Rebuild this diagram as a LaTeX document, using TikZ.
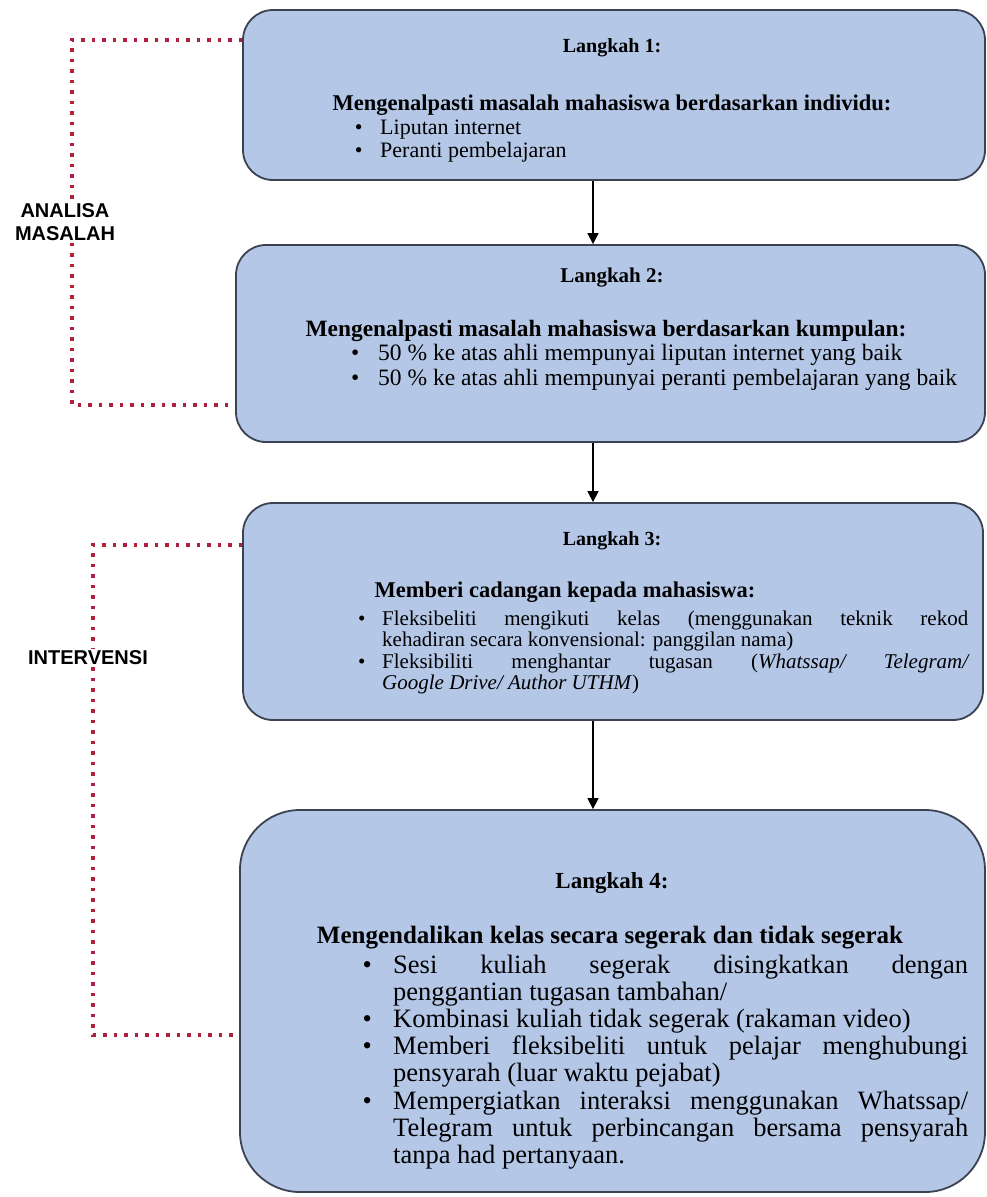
\documentclass[tikz,border=0pt]{standalone}
\usepackage{fontspec}
\setmainfont{Liberation Serif}
\newfontfamily\labelfont{Liberation Sans}
\usetikzlibrary{arrows.meta,positioning}

\definecolor{boxfill}{RGB}{180,199,231}
\definecolor{boxline}{RGB}{59,66,82}
\definecolor{dotred}{RGB}{176,32,60}

\newcommand{\fsz}[2]{\fontsize{#1}{#2}\selectfont}
\newcommand{\itm}[1]{\noindent\llap{\textbullet\hspace{0.8em}}#1\par}

\begin{document}
\begin{tikzpicture}[x=1pt,y=-1pt,
    stepbox/.style={draw=boxline, line width=1.8pt, fill=boxfill, rounded corners=30pt, inner sep=0pt},
    steptitle/.style={anchor=base, font=\bfseries},
    itemlist/.style={anchor=base west, inner sep=0pt, align=justify},
    flow/.style={-{Triangle[length=11pt,width=11pt]}, line width=1.5pt},
    bracket/.style={dotred, line width=4pt, dash pattern=on 3.5pt off 7pt},
    phase/.style={font=\labelfont\bfseries\fsz{20}{23}, align=center, fill=white, inner sep=2pt}]
  \useasboundingbox (0,0) rectangle (987,1197);
  % Boxes
  \node[stepbox, minimum width=742pt, minimum height=170pt] (b1) at (614,95) {};
  \node[stepbox, minimum width=749pt, minimum height=197pt] (b2) at (610.5,343.5) {};
  \node[stepbox, minimum width=740pt, minimum height=217pt] (b3) at (613,611.5) {};
  \node[stepbox, minimum width=745pt, minimum height=382pt, rounded corners=60pt] (b4) at (612.5,1001) {};
  % Step 1
  \node[steptitle, font=\bfseries\fsz{20}{24}] (t1) at (612,52) {Langkah 1:};
  \node[steptitle, font=\bfseries\fsz{22.5}{26}] (h1) at (612,110) {Mengenalpasti masalah mahasiswa berdasarkan individu:};
  \node[itemlist, text width=560pt, font=\fsz{22}{23}] (l1) at (380,134) {\itm{Liputan internet}\itm{Peranti pembelajaran}};
  % Step 2
  \node[steptitle, font=\bfseries\fsz{21}{24}] (t2) at (612,282) {Langkah 2:};
  \node[steptitle, font=\bfseries\fsz{23.4}{26}] (h2) at (606,336) {Mengenalpasti masalah mahasiswa berdasarkan kumpulan:};
  \node[itemlist, text width=590pt, font=\fsz{23.5}{25}] (l2) at (378,360) {\itm{50 \% ke atas ahli mempunyai liputan internet yang baik}\itm{50 \% ke atas ahli mempunyai peranti pembelajaran yang baik}};
  % Step 3
  \node[steptitle, font=\bfseries\fsz{20}{24}] (t3) at (612,545) {Langkah 3:};
  \node[steptitle, font=\bfseries\fsz{22.5}{24}] (h3) at (565,597) {Memberi cadangan kepada mahasiswa:};
  \node[itemlist, text width=586pt, font=\fsz{21}{21.5}] (l3) at (382,625) {\tolerance=9999
    \itm{Fleksibeliti mengikuti kelas (menggunakan teknik rekod\linebreak kehadiran secara konvensional: panggilan nama)}\itm{Fleksibiliti menghantar tugasan (\textit{Whatssap/ Telegram/\linebreak Google Drive/ Author UTHM})}};
  % Step 4
  \node[steptitle, font=\bfseries\fsz{23}{26}] (t4) at (612,888) {Langkah 4:};
  \node[steptitle, font=\bfseries\fsz{25}{28}] (h4) at (610,943) {Mengendalikan kelas secara segerak dan tidak segerak};
  \node[itemlist, text width=575pt, font=\fsz{26.5}{27.2}] (l4) at (393,973) {\tolerance=9999
    \itm{Sesi kuliah segerak disingkatkan dengan\linebreak penggantian tugasan tambahan/}\itm{Kombinasi kuliah tidak segerak (rakaman video)}\itm{Memberi fleksibeliti untuk pelajar menghubungi\linebreak pensyarah (luar waktu pejabat)}\itm{Mempergiatkan interaksi menggunakan Whatssap/\linebreak Telegram untuk perbincangan bersama pensyarah\linebreak tanpa had pertanyaan.}};
  % Arrows
  \coordinate (ax) at (593,0);
  \draw[flow] (b1.south -| ax) -- (b2.north -| ax);
  \draw[flow] (b2.south -| ax) -- (b3.north -| ax);
  \draw[flow] (b3.south -| ax) -- (b4.north -| ax);
  % Brackets
  \coordinate (am1) at (72,40);
  \coordinate (am2) at (72,405);
  \coordinate (iv1) at (93,545);
  \coordinate (iv2) at (93,1035);
  \node[phase] (am) at (65,222) {ANALISA\\MASALAH};
  \node[phase] (iv) at (88,658) {INTERVENSI};
  \draw[bracket] (b1.west |- am1) -- (am1) -- (am.north -| am1);
  \draw[bracket] (am.south -| am2) -- (am2) -- (b2.west |- am2);
  \draw[bracket] (b3.west |- iv1) -- (iv1) -- (iv.north -| iv1);
  \draw[bracket] (iv.south -| iv2) -- (iv2) -- (b4.west |- iv2);
\end{tikzpicture}
\end{document}
